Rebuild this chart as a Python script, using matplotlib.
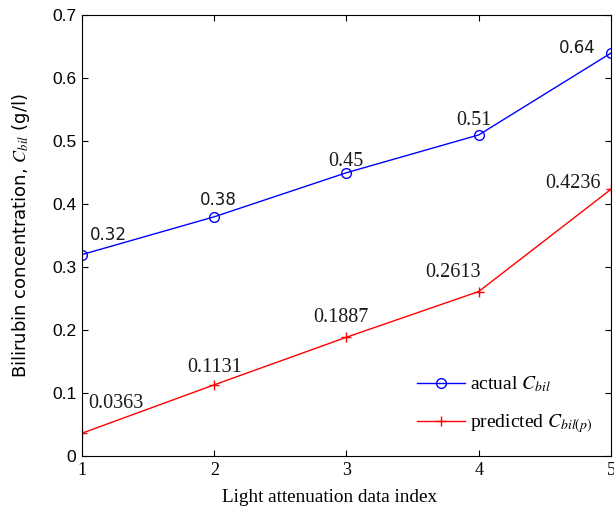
import numpy as np
import matplotlib
matplotlib.use('Agg')
import matplotlib.pyplot as plt
from matplotlib import rcParams

# data
idx = [1, 2, 3, 4, 5]
actual = [0.32, 0.38, 0.45, 0.51, 0.64]
predicted = [0.0363, 0.1131, 0.1887, 0.2613, 0.4236]
actual_lbl = ['0.32', '0.38', '0.45', '0.51', '0.64']
pred_lbl = ['0.0363', '0.1131', '0.1887', '0.2613', '0.4236']

rcParams['mathtext.fontset'] = 'stix'
rcParams['xtick.direction'] = 'in'
rcParams['ytick.direction'] = 'in'

sans = 'Liberation Sans'
serif = 'Liberation Serif'

fig = plt.figure(figsize=(6.14, 5.11), dpi=100, facecolor='white')
ax = fig.add_axes([0.1336, 0.1076, 0.8614, 0.8624])

ax.plot(idx, actual, '-', color='#0000ff', marker='o', mfc='none', mec='#0000ff',
        ms=7, lw=1, label=r'actual $C_{bil}$')
ax.plot(idx, predicted, '-', color='#ff0000', marker='+', ms=7, mew=1, lw=1,
        label=r'predicted $C_{\mathit{bil(p)}}$')

# point labels: (dx, dy) in pixels from the point, font family
a_off = [(26, 15, 'DejaVu Sans'), (4, 12, 'DejaVu Sans'), (-1, 7, serif),
         (-5, 10, serif), (-34, 0, 'DejaVu Sans')]
p_off = [(34, 25, serif), (0, 13, serif), (-6, 15, serif),
         (-26, 15, serif), (-38, 1, serif)]
for x, y, s, o in zip(idx + idx, actual + predicted, actual_lbl + pred_lbl,
                      a_off + p_off):
    fs = 12 if o[2] == 'DejaVu Sans' else 14.5
    ax.annotate(s, (x, y), xytext=(o[0], o[1]), textcoords='offset pixels',
                family=o[2], fontsize=fs, ha='center', va='baseline',
                color='#1a1a1a', annotation_clip=False)

ax.set_xlim(1, 5)
ax.set_ylim(0, 0.7)
ax.set_xticks([1, 2, 3, 4, 5])
ax.set_yticks(np.arange(0, 0.71, 0.1))
ax.set_yticklabels(['0', '0.1', '0.2', '0.3', '0.4', '0.5', '0.6', '0.7'],
                   family=sans, fontsize=12.5)
ax.set_xticklabels(['1', '2', '3', '4', '5'], family=serif, fontsize=13)
ax.tick_params(top=True, right=True, length=4.5, width=0.8, pad=4)
for sp in ax.spines.values():
    sp.set_linewidth(0.8)

ax.set_xlabel('Light attenuation data index', family=serif, fontsize=13.8)
ax.xaxis.set_label_coords(0.468, -0.074)
ax.set_ylabel(r'Bilirubin concentration, $C_{bil}$ (g/l)', family='DejaVu Sans',
              fontsize=13)
ax.yaxis.set_label_coords(-0.095, 0.5)

leg = ax.legend(loc='center left', bbox_to_anchor=(0.633, 0.116), frameon=False,
                prop={'family': serif, 'size': 14}, handlelength=2.5,
                handletextpad=0.25, labelspacing=0.95, borderpad=0,
                borderaxespad=0)

plt.savefig('out.png', dpi=100, facecolor='white')
